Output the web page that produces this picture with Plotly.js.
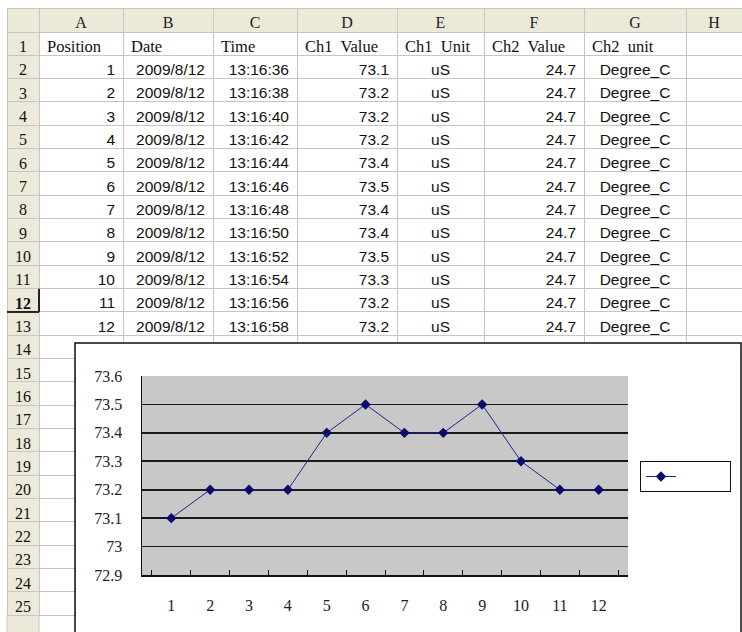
<!DOCTYPE html>
<html><head><meta charset="utf-8">
<script src="https://cdn.plot.ly/plotly-3.0.1.min.js"></script>
<style>html,body{margin:0;padding:0;overflow:hidden;background:#fff}#chart{width:742px;height:632px}</style>
</head><body><div id="chart"></div>
<script>
// ---------- data ----------
const columnLetters = ['A','B','C','D','E','F','G','H'];
const headerLabels = ['Position','Date','Time','Ch1\u00a0 Value','Ch1\u00a0 Unit','Ch2\u00a0 Value','Ch2\u00a0 unit'];
const positions = [1,2,3,4,5,6,7,8,9,10,11,12];
const dates = ['2009/8/12','2009/8/12','2009/8/12','2009/8/12','2009/8/12','2009/8/12','2009/8/12','2009/8/12','2009/8/12','2009/8/12','2009/8/12','2009/8/12'];
const times = ['13:16:36','13:16:38','13:16:40','13:16:42','13:16:44','13:16:46','13:16:48','13:16:50','13:16:52','13:16:54','13:16:56','13:16:58'];
const ch1Values = [73.1,73.2,73.2,73.2,73.4,73.5,73.4,73.4,73.5,73.3,73.2,73.2];
const ch1Units = ['uS','uS','uS','uS','uS','uS','uS','uS','uS','uS','uS','uS'];
const ch2Values = [24.7,24.7,24.7,24.7,24.7,24.7,24.7,24.7,24.7,24.7,24.7,24.7];
const ch2Units = ['Degree_C','Degree_C','Degree_C','Degree_C','Degree_C','Degree_C','Degree_C','Degree_C','Degree_C','Degree_C','Degree_C','Degree_C'];
const upperRowNumbers = ['1','2','3','4','5','6','7','8','9','10','11','12','13','14'];
const lowerRowNumbers = ['15','16','17','18','19','20','21','22','23','24','25'];
const selectedRow = '12';

// ---------- geometry ----------
const W = 742, H = 632;
const X = p => p / W, Y = p => 1 - p / H;
const colWidths = [32,84,90,84,100,87,100,102,56];
const tableLeft = 7, tableTop = 8, headerH = 24, rowH = 23.33;
const upperBottom = tableTop + headerH + upperRowNumbers.length * rowH;
const lowerBottom = upperBottom + lowerRowNumbers.length * rowH;
const BEIGE = '#ECE9D8', GRID = '#C6C6C6';
const SERIF = 'Liberation Serif', SANS = 'Liberation Sans';

const n = positions.length;
function col(label, vals) { return [label].concat(vals.map(String)).concat(['']); }
const blanks = new Array(n + 2).fill('');
const cellCols = [
  upperRowNumbers,
  col(headerLabels[0], positions),
  col(headerLabels[1], dates),
  col(headerLabels[2], times),
  col(headerLabels[3], ch1Values),
  col(headerLabels[4], ch1Units),
  col(headerLabels[5], ch2Values),
  col(headerLabels[6], ch2Units),
  blanks
];
function colSpec(first, rest) { const a = [first]; for (let i = 0; i < n + 1; i++) a.push(rest); return a; }
const aligns = ['center', colSpec('left','right'), colSpec('left','right'), colSpec('left','right'),
  colSpec('left','right'), colSpec('left','center'), colSpec('left','right'), colSpec('left','center'), 'left'];
const fams = [SERIF, colSpec(SERIF,SANS), colSpec(SERIF,SANS), colSpec(SERIF,SANS), colSpec(SERIF,SANS),
  colSpec(SERIF,SANS), colSpec(SERIF,SANS), colSpec(SERIF,SANS), SANS];
const sizes = [16, colSpec(16.5,15.5), colSpec(16.5,15.5), colSpec(16.5,15.5), colSpec(16.5,15.5),
  colSpec(16.5,15.5), colSpec(16.5,15.5), colSpec(16.5,15.5), 16];
const weights = [upperRowNumbers.map(r => r === selectedRow ? 'bold' : 'normal'), 'normal', 'normal', 'normal',
  'normal', 'normal', 'normal', 'normal', 'normal'];

const upperTable = {
  type: 'table',
  domain: {x: [X(tableLeft), 1], y: [Y(upperBottom + 2), Y(tableTop)]},
  columnwidth: colWidths,
  header: {
    values: [''].concat(columnLetters),
    height: headerH,
    align: 'center',
    fill: {color: BEIGE},
    line: {color: GRID, width: 1},
    font: {family: SERIF, size: 16, color: '#222'}
  },
  cells: {
    values: cellCols,
    height: rowH,
    align: aligns,
    fill: {color: [BEIGE, '#fff', '#fff', '#fff', '#fff', '#fff', '#fff', '#fff', '#fff']},
    line: {color: GRID, width: 1},
    font: {family: fams, size: sizes, color: '#111', weight: weights}
  }
};

const lowerTable = {
  type: 'table',
  domain: {x: [X(tableLeft), X(75)], y: [Y(lowerBottom + 2), Y(upperBottom)]},
  columnwidth: [32, 36],
  header: {
    values: [lowerRowNumbers[0], ''],
    height: rowH,
    align: 'center',
    fill: {color: [BEIGE, '#fff']},
    line: {color: GRID, width: 1},
    font: {family: SERIF, size: 16, color: '#111'}
  },
  cells: {
    values: [lowerRowNumbers.slice(1), lowerRowNumbers.slice(1).map(() => '')],
    height: rowH,
    align: 'center',
    fill: {color: [BEIGE, '#fff']},
    line: {color: GRID, width: 1},
    font: {family: SERIF, size: 16, color: '#111'}
  }
};

const series = {
  type: 'scatter',
  mode: 'lines+markers',
  x: positions.map(String),
  y: ch1Values,
  name: '',
  line: {color: '#23238a', width: 1},
  marker: {symbol: 'diamond', size: 8, color: '#0b0b6e'},
  showlegend: true,
  hoverinfo: 'skip'
};

const row12Top = tableTop + headerH + 11 * rowH, row12Bot = row12Top + rowH;

const layout = {
  width: W, height: H,
  margin: {l: 0, r: 0, t: 0, b: 0, pad: 0},
  paper_bgcolor: '#fff',
  plot_bgcolor: '#C8C8C8',
  showlegend: true,
  legend: {
    orientation: 'h',
    x: X(640), y: Y(461), xanchor: 'left', yanchor: 'top',
    bgcolor: '#fff', bordercolor: '#111', borderwidth: 1,
    font: {family: SERIF, size: 9, color: '#111'},
    entrywidth: 44, entrywidthmode: 'pixels',
    tracegroupgap: 0
  },
  xaxis: {
    domain: [X(142), X(628)],
    type: 'category',
    showgrid: false, zeroline: false,
    showline: true, linecolor: '#111', linewidth: 1.5,
    ticks: 'inside', tickson: 'boundaries', ticklen: 5, tickcolor: '#111', tickwidth: 1,
    ticklabelstandoff: 15,
    tickfont: {family: SERIF, size: 16, color: '#222'}
  },
  yaxis: {
    domain: [Y(575), Y(376)],
    range: [72.9, 73.6], tick0: 72.9, dtick: 0.1,
    showgrid: true, gridcolor: '#1a1a1a', gridwidth: 1.6,
    zeroline: false,
    showline: true, linecolor: '#111', linewidth: 1.5,
    ticks: '', ticklabelstandoff: 15,
    tickfont: {family: SERIF, size: 16, color: '#222'}
  },
  shapes: [
    {type: 'rect', xref: 'paper', yref: 'paper', x0: X(tableLeft), x1: X(39), y0: Y(700), y1: Y(lowerBottom),
     fillcolor: BEIGE, line: {color: GRID, width: 1}, layer: 'below'},
    {type: 'rect', xref: 'paper', yref: 'paper', x0: X(75), x1: X(741), y0: Y(370), y1: Y(343),
     fillcolor: '#fff', line: {width: 0}, layer: 'above'},
    {type: 'rect', xref: 'paper', yref: 'paper', x0: X(75), x1: X(741), y0: Y(700), y1: Y(343),
     fillcolor: 'rgba(0,0,0,0)', line: {color: '#111', width: 1.5}, layer: 'above'},
    {type: 'line', xref: 'paper', yref: 'paper', x0: X(tableLeft), x1: X(39), y0: Y(row12Bot), y1: Y(row12Bot),
     line: {color: '#222', width: 2}, layer: 'above'},
    {type: 'line', xref: 'paper', yref: 'paper', x0: X(39), x1: X(39), y0: Y(row12Top), y1: Y(row12Bot),
     line: {color: '#222', width: 2}, layer: 'above'}
  ]
};
Plotly.newPlot('chart', [upperTable, lowerTable, series], layout, {displayModeBar: false, staticPlot: true});
</script></body></html>
